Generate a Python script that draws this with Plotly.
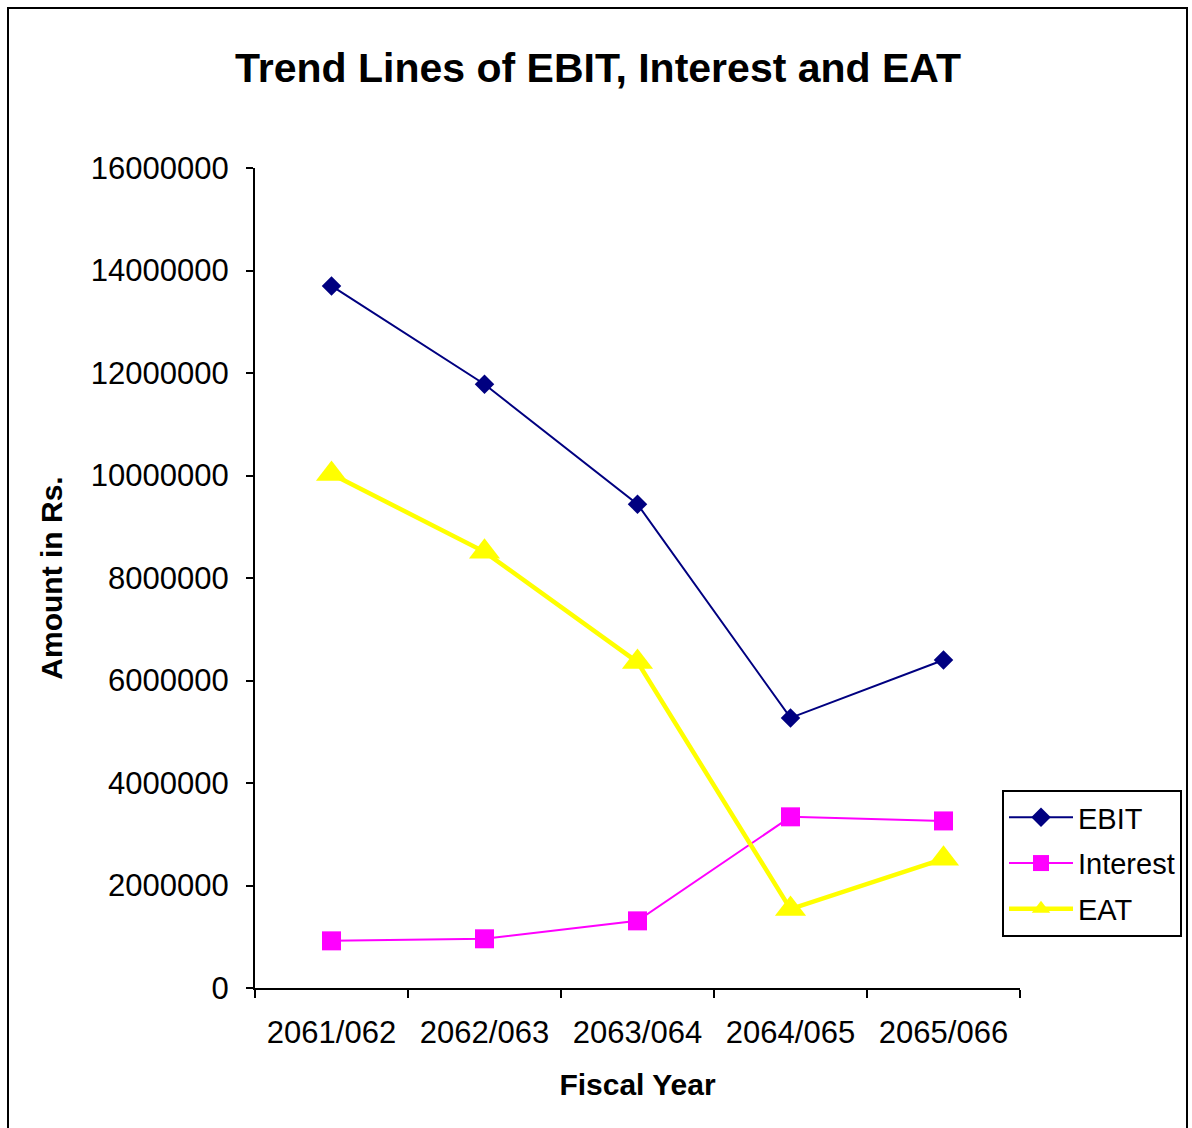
import plotly.graph_objects as go

# Fiscal years and yearly amounts (Rs.)
years = ["2061/062", "2062/063", "2063/064", "2064/065", "2065/066"]
ebit = [13700000, 11780000, 9440000, 5270000, 6400000]
interest = [920000, 960000, 1310000, 3340000, 3260000]
eat = [10030000, 8510000, 6360000, 1540000, 2520000]

y_ticks = list(range(0, 16000001, 2000000))

FONT = "Liberation Sans, Arial, sans-serif"

fig = go.Figure()

fig.add_trace(go.Scatter(
    x=years, y=ebit, name="EBIT", mode="lines+markers", legendgroup="a",
    line=dict(color="#000080", width=2),
    marker=dict(symbol="diamond", size=15, color="#000080"),
))
fig.add_trace(go.Scatter(
    x=years, y=interest, name="Interest", mode="lines+markers", legendgroup="b",
    line=dict(color="#FF00FF", width=2),
    marker=dict(symbol="square", size=19, color="#FF00FF"),
))
fig.add_trace(go.Scatter(
    x=years, y=eat, name="EAT", mode="lines+markers", legendgroup="c",
    line=dict(color="#FFFF00", width=4.5),
    marker=dict(symbol="triangle-up", size=27, color="#FFFF00"),
))

fig.update_layout(
    width=1192, height=1128, autosize=False,
    margin=dict(l=255, r=172, t=168, b=140, autoexpand=False),
    paper_bgcolor="white", plot_bgcolor="white",
    font=dict(family=FONT, size=31, color="black"),
    title=dict(
        text="<b>Trend Lines of EBIT, Interest and EAT</b>",
        x=598 / 1192, xanchor="center", xref="container",
        y=1 - 68 / 1128, yanchor="middle", yref="container",
        font=dict(size=41, family=FONT, color="black"),
    ),
    xaxis=dict(
        type="category", range=[-0.5, 4.5],
        showline=True, linecolor="black", linewidth=2,
        ticks="outside", tickson="boundaries", ticklen=8, tickwidth=2, tickcolor="black",
        ticklabelstandoff=16,
        showgrid=False, zeroline=False,
        title=dict(text="<b>Fiscal Year</b>", standoff=25, font=dict(size=30)),
    ),
    yaxis=dict(
        range=[0, 16000000], tickvals=y_ticks, ticktext=[str(v) for v in y_ticks],
        showline=True, linecolor="black", linewidth=2,
        ticks="outside", ticklen=7, tickwidth=2, tickcolor="black",
        ticklabelstandoff=11,
        showgrid=False, zeroline=False,
        title=dict(text="<b>Amount in Rs.</b>", standoff=19, font=dict(size=30)),
    ),
    legend=dict(
        x=(1002 - 255) / 765, xanchor="left",
        y=(988 - 790) / 820, yanchor="top",
        bordercolor="black", borderwidth=2, bgcolor="white",
        font=dict(size=29, family=FONT),
        itemwidth=64, tracegroupgap=5, traceorder="grouped",
    ),
    shapes=[dict(
        type="rect", xref="paper", yref="paper",
        x0=(8 - 255) / 765, x1=(1187 - 255) / 765,
        y0=-0.3, y1=(988 - 8) / 820,
        line=dict(color="black", width=2), fillcolor="rgba(0,0,0,0)", layer="below",
    )],
)

fig.write_html("out.html")
